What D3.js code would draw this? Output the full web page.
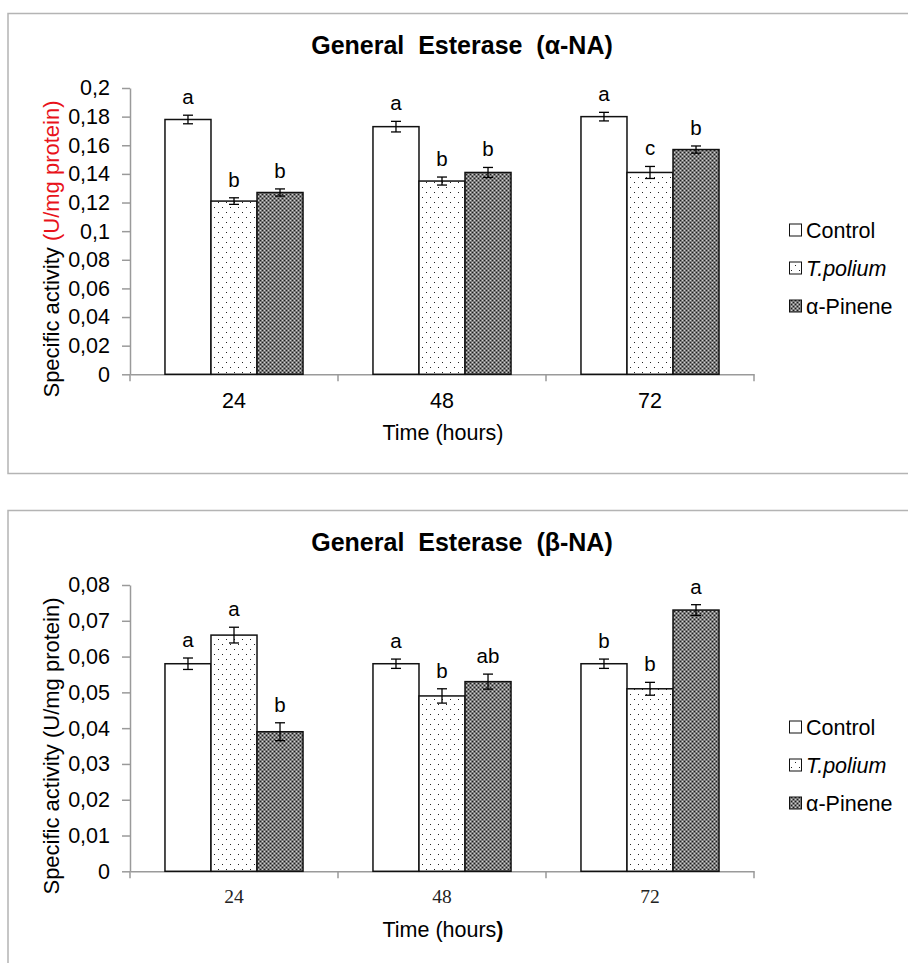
<!DOCTYPE html>
<html>
<head>
<meta charset="utf-8">
<script src="https://cdn.jsdelivr.net/npm/d3@7/dist/d3.min.js"></script>
<style>
  html, body { margin: 0; padding: 0; background: #fff; }
  svg { display: block; }
  text { font-family: "Liberation Sans", Arial, sans-serif; }
</style>
</head>
<body>
<svg id="chart" width="908" height="963"></svg>
<script>
// Time points and treatments
const categories = ["24", "48", "72"];
const seriesNames = ["Control", "T.polium", "α-Pinene"];

// General esterase, α-naphthyl acetate substrate
const alphaControl = [0.178, 0.173, 0.180];
const alphaPolium  = [0.121, 0.135, 0.141];
const alphaPinene  = [0.127, 0.141, 0.157];
const alphaControlErr = [0.0030, 0.0037, 0.0030];
const alphaPoliumErr  = [0.0023, 0.0028, 0.0042];
const alphaPineneErr  = [0.0025, 0.0035, 0.0025];
const alphaControlLetters = ["a", "a", "a"];
const alphaPoliumLetters  = ["b", "b", "c"];
const alphaPineneLetters  = ["b", "b", "b"];
const alphaTicks = [0, 0.02, 0.04, 0.06, 0.08, 0.1, 0.12, 0.14, 0.16, 0.18, 0.2];
const alphaTickLabels = ["0", "0,02", "0,04", "0,06", "0,08", "0,1", "0,12", "0,14", "0,16", "0,18", "0,2"];

// General esterase, β-naphthyl acetate substrate
const betaControl = [0.058, 0.058, 0.058];
const betaPolium  = [0.066, 0.049, 0.051];
const betaPinene  = [0.039, 0.053, 0.073];
const betaControlErr = [0.0016, 0.0013, 0.0013];
const betaPoliumErr  = [0.0022, 0.0020, 0.0018];
const betaPineneErr  = [0.0025, 0.0021, 0.0015];
const betaControlLetters = ["a", "a", "b"];
const betaPoliumLetters  = ["a", "b", "b"];
const betaPineneLetters  = ["b", "ab", "a"];
const betaTicks = [0, 0.01, 0.02, 0.03, 0.04, 0.05, 0.06, 0.07, 0.08];
const betaTickLabels = ["0", "0,01", "0,02", "0,03", "0,04", "0,05", "0,06", "0,07", "0,08"];

const svg = d3.select("#chart");

// Fill patterns: fine dots for T. polium, dark dither for α-pinene
const defs = svg.append("defs");
const dots = defs.append("pattern").attr("id", "dots")
  .attr("patternUnits", "userSpaceOnUse").attr("width", 8).attr("height", 10);
dots.append("rect").attr("width", 8).attr("height", 10).attr("fill", "#fff");
dots.append("rect").attr("x", 2).attr("y", 2).attr("width", 1).attr("height", 1).attr("fill", "#222");
dots.append("rect").attr("x", 6).attr("y", 7).attr("width", 1).attr("height", 1).attr("fill", "#222");

const dither = defs.append("pattern").attr("id", "dither")
  .attr("patternUnits", "userSpaceOnUse").attr("width", 4).attr("height", 4);
dither.append("rect").attr("width", 4).attr("height", 4).attr("fill", "#7a7a7a");
[[0, 0, "#1e1e1e"], [2, 2, "#1e1e1e"], [0, 2, "#d0d0d0"], [2, 0, "#d0d0d0"]].forEach(([x, y, c]) =>
  dither.append("rect").attr("x", x).attr("y", y).attr("width", 1).attr("height", 1).attr("fill", c));

const fills = ["#fff", "url(#dots)", "url(#dither)"];

function drawPanel(cfg) {
  const g = svg.append("g").attr("transform", `translate(0,${cfg.dy})`);

  // frame around the panel
  g.append("rect").attr("x", 8).attr("y", 13.5).attr("width", 920).attr("height", 460)
    .attr("fill", "none").attr("stroke", "#b4b4b4").attr("stroke-width", 1.5);

  const x = d3.scaleBand().domain(categories).range([130, 754]).padding(0);
  const inner = d3.scaleBand().domain(seriesNames).range([0, x.bandwidth()])
    .paddingInner(0).paddingOuter(0.76);
  const y = d3.scaleLinear().domain([0, cfg.max]).range([374.3, 88]);

  // title
  g.append("text").attr("x", 462).attr("y", 54).attr("text-anchor", "middle")
    .style("font-size", "25px").style("font-weight", "bold").style("white-space", "pre")
    .text(cfg.title);

  // y axis
  const yAxis = g.append("g").attr("transform", "translate(130,0)")
    .call(d3.axisLeft(y).tickValues(cfg.ticks).tickFormat((d, i) => cfg.tickLabels[i])
      .tickSize(8).tickSizeOuter(0).tickPadding(12));
  yAxis.select(".domain").attr("stroke", "#9a9a9a").attr("stroke-width", 1.5);
  yAxis.selectAll(".tick line").attr("stroke", "#9a9a9a").attr("stroke-width", 1.5);
  yAxis.selectAll(".tick text").attr("fill", "#000")
    .style("font-size", "21.5px").style("font-family", "'Liberation Sans', Arial, sans-serif");

  // x axis: labels centred in each band, ticks on the band edges
  const xAxis = g.append("g").attr("transform", `translate(0,${y(0)})`)
    .call(d3.axisBottom(x).tickSize(0).tickSizeOuter(0).tickPadding(cfg.xPad));
  xAxis.select(".domain").attr("stroke", "#9a9a9a").attr("stroke-width", 1.5);
  xAxis.selectAll(".tick text").attr("fill", cfg.xTickColor)
    .style("font-size", cfg.xTickSize).style("font-family", cfg.xTickFont);
  const edges = categories.map(c => x(c)).concat([x.range()[1]]);
  xAxis.selectAll("line.edge").data(edges).join("line").attr("class", "edge")
    .attr("x1", d => d).attr("x2", d => d).attr("y1", 0).attr("y2", 7)
    .attr("stroke", "#9a9a9a").attr("stroke-width", 1.5);

  // bars, error bars and significance letters
  cfg.series.forEach((s, si) => {
    const sg = g.append("g");
    const rows = categories.map((c, i) => ({ c, v: s.values[i], e: s.err[i], l: s.letters[i] }));
    const bx = d => x(d.c) + inner(seriesNames[si]);
    const bw = inner.bandwidth();
    sg.selectAll("rect").data(rows).join("rect")
      .attr("x", bx).attr("y", d => y(d.v))
      .attr("width", bw).attr("height", d => y(0) - y(d.v))
      .attr("fill", fills[si]).attr("stroke", "#111").attr("stroke-width", 1.5);
    const eg = sg.selectAll("g.err").data(rows).join("g").attr("class", "err")
      .attr("stroke", "#000").attr("stroke-width", 1.3);
    eg.append("line").attr("x1", d => bx(d) + bw / 2).attr("x2", d => bx(d) + bw / 2)
      .attr("y1", d => y(d.v - d.e)).attr("y2", d => y(d.v + d.e));
    eg.append("line").attr("x1", d => bx(d) + bw / 2 - 5).attr("x2", d => bx(d) + bw / 2 + 5)
      .attr("y1", d => y(d.v + d.e)).attr("y2", d => y(d.v + d.e));
    eg.append("line").attr("x1", d => bx(d) + bw / 2 - 5).attr("x2", d => bx(d) + bw / 2 + 5)
      .attr("y1", d => y(d.v - d.e)).attr("y2", d => y(d.v - d.e));
    sg.selectAll("text.sig").data(rows).join("text").attr("class", "sig")
      .attr("x", d => bx(d) + bw / 2).attr("y", d => y(d.v + d.e) - 11)
      .attr("text-anchor", "middle").style("font-size", "20.5px").text(d => d.l);
  });

  // y axis title
  const yt = g.append("text").attr("transform", "translate(59,249) rotate(-90)")
    .attr("text-anchor", "middle").style("font-size", "22px");
  yt.append("tspan").text("Specific activity ");
  yt.append("tspan").attr("fill", cfg.unitColor).text("(U/mg protein)");

  // x axis title
  const xt = g.append("text").attr("x", 443).attr("y", 440).attr("text-anchor", "middle")
    .style("font-size", "21.5px");
  xt.append("tspan").text("Time (hours");
  xt.append("tspan").style("font-weight", cfg.parenBold ? "bold" : "normal").text(")");

  // legend
  const lg = g.append("g").selectAll("g").data(seriesNames).join("g")
    .attr("transform", (d, i) => `translate(789,${230 + i * 38})`);
  lg.append("rect").attr("x", 0.5).attr("y", -6).attr("width", 12).attr("height", 12)
    .attr("fill", (d, i) => fills[i]).attr("stroke", "#111").attr("stroke-width", 1);
  lg.append("text").attr("x", 17).attr("y", 7.5).style("font-size", "21.5px")
    .style("font-style", d => d === "T.polium" ? "italic" : "normal").text(d => d);
}

drawPanel({
  dy: 0, max: 0.2, title: "General  Esterase  (α-NA)",
  ticks: alphaTicks, tickLabels: alphaTickLabels,
  series: [
    { values: alphaControl, err: alphaControlErr, letters: alphaControlLetters },
    { values: alphaPolium, err: alphaPoliumErr, letters: alphaPoliumLetters },
    { values: alphaPinene, err: alphaPineneErr, letters: alphaPineneLetters }
  ],
  unitColor: "#e8131b", parenBold: false,
  xPad: 18, xTickSize: "21.5px", xTickColor: "#000",
  xTickFont: "'Liberation Sans', Arial, sans-serif"
});

drawPanel({
  dy: 497, max: 0.08, title: "General  Esterase  (β-NA)",
  ticks: betaTicks, tickLabels: betaTickLabels,
  series: [
    { values: betaControl, err: betaControlErr, letters: betaControlLetters },
    { values: betaPolium, err: betaPoliumErr, letters: betaPoliumLetters },
    { values: betaPinene, err: betaPineneErr, letters: betaPineneLetters }
  ],
  unitColor: "#000", parenBold: true,
  xPad: 18, xTickSize: "19.5px", xTickColor: "#222",
  xTickFont: "'Liberation Serif', 'Times New Roman', serif"
});
</script>
</body>
</html>
